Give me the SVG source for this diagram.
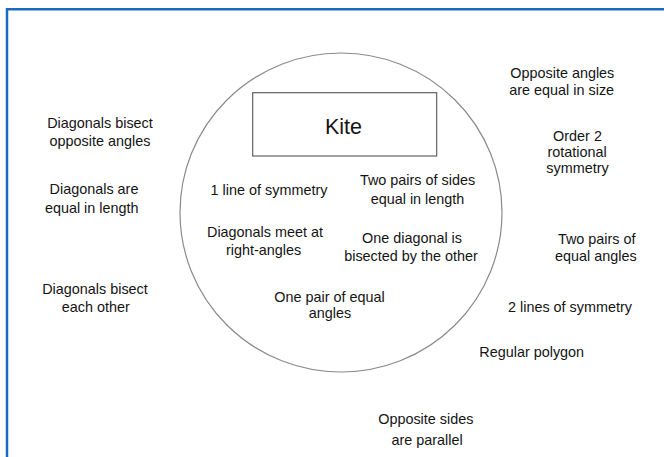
<svg xmlns="http://www.w3.org/2000/svg" width="664" height="457" viewBox="0 0 664 457">
<style>
text{font-family:"Liberation Sans",Arial,sans-serif;font-size:14.4px;fill:#141414;text-anchor:middle}
.kite{font-size:21.5px}
.frame{stroke:#1a6bbf;stroke-width:2.5;fill:none}
.venn{fill:none;stroke:#8a8a8a;stroke-width:1.2}
.box{fill:#fff;stroke:#555;stroke-width:1.1}
</style>
<rect width="664" height="457" fill="#fff"/>
<g id="frame"><path class="frame" d="M7 457 V9.2 H664"/></g>
<g id="circle"><ellipse class="venn" cx="341" cy="212.5" rx="161" ry="159.5"/></g>
<g id="kite"><rect class="box" x="252.7" y="92.7" width="184" height="63.3"/><text class="kite" x="343.5" y="133.5">Kite</text></g>
<g id="n-line-sym"><text x="269" y="195">1 line of symmetry</text></g>
<g id="n-two-pairs-sides"><text x="417.5" y="184.5">Two pairs of sides</text><text x="417.5" y="203.5">equal in length</text></g>
<g id="n-diag-right"><text x="265" y="236.8">Diagonals meet at</text><text x="263.5" y="254.5">right-angles</text></g>
<g id="n-one-diag"><text x="412" y="243.3">One diagonal is</text><text x="411" y="261">bisected by the other</text></g>
<g id="n-one-pair"><text x="329.5" y="301.7">One pair of equal</text><text x="330" y="318.3">angles</text></g>
<g id="n-diag-bisect-opp"><text x="100" y="127.5">Diagonals bisect</text><text x="100" y="145.7">opposite angles</text></g>
<g id="n-diag-equal"><text x="94" y="194">Diagonals are</text><text x="91.7" y="213.3">equal in length</text></g>
<g id="n-diag-bisect-each"><text x="95" y="294">Diagonals bisect</text><text x="95.8" y="311.7">each other</text></g>
<g id="n-opp-angles"><text x="562.3" y="78.3">Opposite angles</text><text x="561.7" y="95">are equal in size</text></g>
<g id="n-order2"><text x="577.5" y="141">Order 2</text><text x="577" y="157.3">rotational</text><text x="577.5" y="173.3">symmetry</text></g>
<g id="n-two-pairs-angles"><text x="596.7" y="244.3">Two pairs of</text><text x="595.8" y="261">equal angles</text></g>
<g id="n-two-lines"><text x="570" y="311.7">2 lines of symmetry</text></g>
<g id="n-regular"><text x="531.7" y="356.7">Regular polygon</text></g>
<g id="n-opp-sides"><text x="425.8" y="424">Opposite sides</text><text x="427" y="445">are parallel</text></g>
<g id="connectors"/>
</svg>
